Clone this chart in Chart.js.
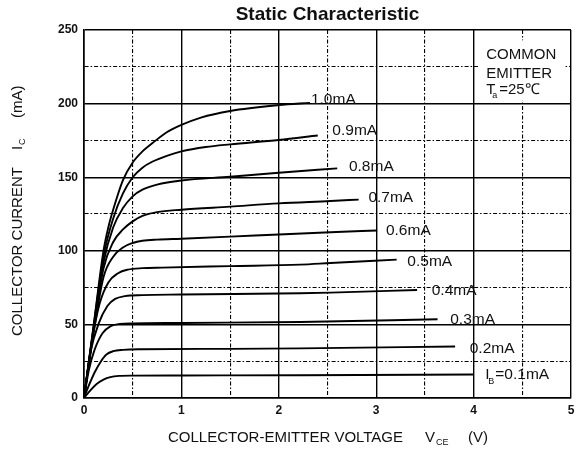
<!DOCTYPE html>
<html><head><meta charset="utf-8">
<script src="https://cdn.jsdelivr.net/npm/chart.js@4.4.1/dist/chart.umd.min.js"></script>
<style>html,body{margin:0;padding:0;background:#fff}</style>
</head><body>
<canvas id="c" width="575" height="452"></canvas>
<script>
// ---- data ----
const chartTitle = 'Static Characteristic';
const xTickLabels = ['0', '1', '2', '3', '4', '5'];
const yTickLabels = ['0', '50', '100', '150', '200', '250'];
const seriesNames = ['0.1mA', '0.2mA', '0.3mA', '0.4mA', '0.5mA', '0.6mA', '0.7mA', '0.8mA', '0.9mA', '1.0mA'];

const vce01 = [0, 0.07, 0.13, 0.2, 0.27, 0.36, 0.5, 1.0, 2.22, 4.0];
const ic01  = [0, 5.5, 9.5, 12.5, 14.2, 15, 15.2, 15.3, 15.5, 16];
const vce02 = [0, 0.05, 0.11, 0.17, 0.23, 0.3, 0.4, 0.6, 1.5, 2.22, 3.81];
const ic02  = [0, 8.5, 17.5, 24.5, 29.5, 31.8, 32.7, 33.1, 33.4, 33.7, 35];
const vce03 = [0, 0.05, 0.11, 0.19, 0.27, 0.37, 0.5, 1.0, 2.22, 3.63];
const ic03  = [0, 19, 33, 44, 48.7, 50.3, 50.7, 51, 51.6, 53.5];
const vce04 = [0, 0.07, 0.15, 0.24, 0.32, 0.42, 0.6, 1.0, 2.22, 2.53, 3.42];
const ic04  = [0, 32, 50.5, 62.5, 67.3, 69.2, 69.9, 70.3, 71.2, 71.6, 73.4];
const vce05 = [0, 0.08, 0.16, 0.25, 0.35, 0.45, 0.6, 0.8, 1.5, 2.22, 2.53, 3.21];
const ic05  = [0, 38, 64, 78.5, 84.8, 87.2, 88.2, 88.6, 89.6, 90.6, 91.7, 94];
const vce06 = [0, 0.1, 0.2, 0.3, 0.4, 0.5, 0.6, 0.75, 1.0, 1.5, 2.0, 2.53, 3.01];
const ic06  = [0, 45, 82, 96, 102.3, 105.3, 106.8, 107.6, 108.2, 109.6, 111.1, 112.6, 113.8];
const vce07 = [0, 0.1, 0.2, 0.3, 0.4, 0.5, 0.6, 0.75, 1.0, 1.5, 2.0, 2.53, 2.82];
const ic07  = [0, 47, 88, 106, 114.5, 120, 123.7, 126.3, 127.9, 130, 132.2, 133.8, 134.8];
const vce08 = [0, 0.1, 0.2, 0.3, 0.4, 0.5, 0.6, 0.75, 1.0, 1.5, 2.0, 2.6];
const ic08  = [0, 48, 92, 116, 129, 137, 141.5, 145, 147.8, 150.3, 153, 156];
const vce09 = [0, 0.1, 0.2, 0.3, 0.4, 0.5, 0.6, 0.7, 0.85, 1.0, 1.25, 1.5, 2.0, 2.4];
const ic09  = [0, 49, 96, 122, 139, 150, 156.5, 160.5, 164.5, 167.5, 170.5, 172.3, 175.3, 178.3];
const vce10 = [0, 0.1, 0.2, 0.25, 0.3, 0.4, 0.5, 0.6, 0.7, 0.85, 1.0, 1.2, 1.5, 2.0, 2.32];
const ic10  = [0, 50, 100, 116, 128, 148, 160, 167.5, 173, 180.5, 185.5, 190.5, 195, 199, 200.5];

// ---- presentation ----
const FONT = "'Liberation Sans', Arial, Helvetica, sans-serif";
const INK = '#111';
const vceSets = [vce01, vce02, vce03, vce04, vce05, vce06, vce07, vce08, vce09, vce10];
const icSets  = [ic01, ic02, ic03, ic04, ic05, ic06, ic07, ic08, ic09, ic10];
// curve label anchors (data units)
const labelAnchors = [
  [4.12, 15.6], [3.96, 33.3], [3.76, 53], [3.57, 72.7], [3.32, 92.4],
  [3.10, 113.5], [2.92, 135.9], [2.72, 157], [2.55, 181.4], [2.33, 202.4]
];

const datasets = seriesNames.map((name, k) => ({
  label: name,
  data: vceSets[k].map((v, i) => ({ x: v, y: icSets[k][i] })),
  borderColor: '#000',
  borderWidth: 1.9,
  pointRadius: 0,
  fill: false,
  cubicInterpolationMode: 'monotone'
}));

const isMajorX = v => Math.abs(v - Math.round(v)) < 1e-6;
const isMajorY = v => Math.abs(v / 50 - Math.round(v / 50)) < 1e-6;
const MINOR_DASH = [4, 2, 1.5, 2];
const BIG = '15px ', LBL = '15.5px ', SUB = '9px ';

function drawPieces(ctx, pieces, y) {
  pieces.forEach(p => {
    ctx.font = (p.sub ? SUB : BIG) + FONT;
    ctx.fillText(p.t, p.x, y + (p.sub ? 5 : 0));
  });
}

const annotPlugin = {
  id: 'annot',
  afterDraw(chart) {
    const ctx = chart.ctx;
    const xs = chart.scales.x, ys = chart.scales.y;
    const area = chart.chartArea;
    ctx.save();
    ctx.fillStyle = INK;
    ctx.textBaseline = 'middle';

    // title centred over the plot area
    ctx.textAlign = 'center';
    ctx.font = 'bold 19px ' + FONT;
    ctx.fillText(chartTitle, (area.left + area.right) / 2, 15);

    ctx.textAlign = 'left';
    // curve labels
    seriesNames.forEach((name, k) => {
      const px = xs.getPixelForValue(labelAnchors[k][0]);
      const py = ys.getPixelForValue(labelAnchors[k][1]);
      if (k === 0) {
        ctx.font = LBL + FONT;
        ctx.fillText('I', px, py);
        ctx.font = SUB + FONT;
        ctx.fillText('B', px + 3, py + 6);
        ctx.font = LBL + FONT;
        ctx.fillText('=' + name, px + 10, py);
      } else {
        ctx.font = LBL + FONT;
        ctx.fillText(name, px, py);
      }
    });

    // COMMON EMITTER box
    const bx = xs.getPixelForValue(4.05), by = ys.getPixelForValue(243);
    const bw = xs.getPixelForValue(4.93) - bx, bh = ys.getPixelForValue(202) - by;
    ctx.fillStyle = '#fff';
    ctx.fillRect(bx, by, bw, bh);
    ctx.fillStyle = INK;
    ctx.font = BIG + FONT;
    const tx = xs.getPixelForValue(4.13);
    ctx.fillText('COMMON', tx, ys.getPixelForValue(233));
    ctx.fillText('EMITTER', tx, ys.getPixelForValue(220.5));
    const ty = ys.getPixelForValue(209.5);
    ctx.fillText('T', tx, ty);
    ctx.font = SUB + FONT;
    ctx.fillText('a', tx + 6, ty + 6);
    ctx.font = BIG + FONT;
    ctx.fillText('=25\u2103', tx + 13, ty);

    // x axis title
    drawPieces(ctx, [
      { t: 'COLLECTOR-EMITTER VOLTAGE', x: 168 },
      { t: 'V', x: 425 },
      { t: 'CE', x: 436, sub: true },
      { t: '(V)', x: 468 }
    ], 438);

    // y axis title (rotated)
    ctx.translate(18, 336);
    ctx.rotate(-Math.PI / 2);
    drawPieces(ctx, [
      { t: 'COLLECTOR CURRENT', x: 0 },
      { t: 'I', x: 186 },
      { t: 'C', x: 191, sub: true },
      { t: '(mA)', x: 218 }
    ], 0);
    ctx.restore();
  }
};

new Chart(document.getElementById('c'), {
  type: 'line',
  data: { datasets },
  plugins: [annotPlugin],
  options: {
    responsive: false,
    devicePixelRatio: 1,
    animation: false,
    layout: { padding: { left: 0, right: 4, top: 30, bottom: 0 } },
    plugins: {
      legend: { display: false },
      tooltip: { enabled: false },
      title: { display: false }
    },
    scales: {
      x: {
        type: 'linear', min: 0, max: 5,
        afterFit(s) { s.height = 54; s.paddingRight = 0; s.paddingLeft = 0; },
        ticks: {
          stepSize: 0.5, autoSkip: false, maxRotation: 0, padding: 5,
          color: INK, font: { family: FONT, size: 12, weight: 'bold' },
          callback: v => isMajorX(v) ? xTickLabels[Math.round(v)] : ''
        },
        grid: {
          drawTicks: false,
          color: '#000',
          lineWidth: c => (c.tick && isMajorX(c.tick.value)) ? 1.4 : 1.1
        },
        border: {
          display: true, color: '#000', width: 1.6,
          dash: c => (c.tick && !isMajorX(c.tick.value)) ? MINOR_DASH : []
        }
      },
      y: {
        type: 'linear', min: 0, max: 250,
        afterFit(s) { s.width = 84; s.paddingTop = 0; s.paddingBottom = 0; },
        ticks: {
          stepSize: 25, autoSkip: false, padding: 6,
          color: INK, font: { family: FONT, size: 12, weight: 'bold' },
          callback: v => isMajorY(v) ? yTickLabels[Math.round(v / 50)] : ''
        },
        grid: {
          drawTicks: false,
          color: '#000',
          lineWidth: c => (c.tick && isMajorY(c.tick.value)) ? 1.4 : 1.1
        },
        border: {
          display: true, color: '#000', width: 1.6,
          dash: c => (c.tick && !isMajorY(c.tick.value)) ? MINOR_DASH : []
        }
      }
    }
  }
});
</script>
</body></html>
